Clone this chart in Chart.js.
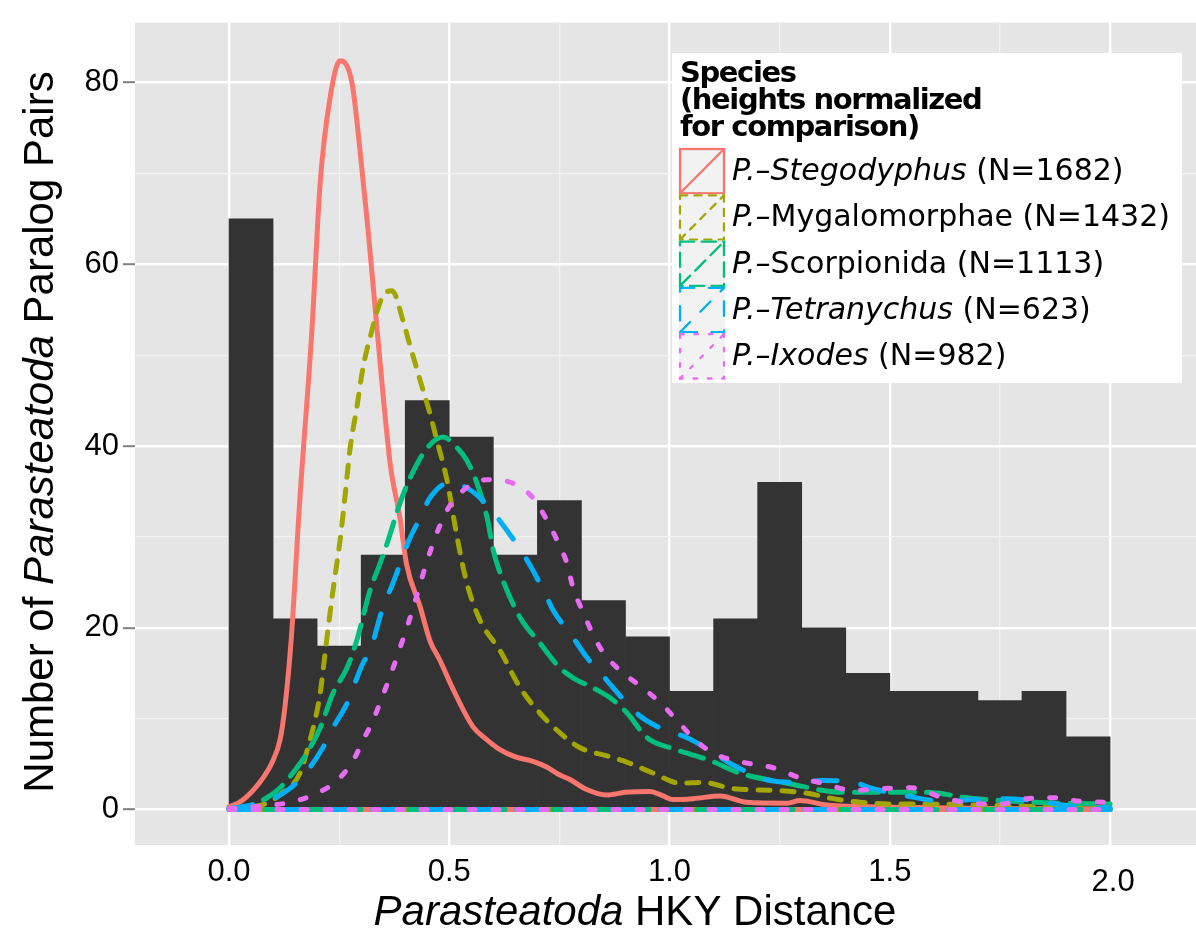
<!DOCTYPE html>
<html>
<head>
<meta charset="utf-8">
<script src="https://cdn.jsdelivr.net/npm/chart.js@4.4.1/dist/chart.umd.min.js"></script>
<style>
  html, body { margin: 0; padding: 0; background: #fff; }
  #wrap { width: 1196px; height: 930px; }
</style>
</head>
<body>
<div id="wrap"><canvas id="grafico" width="1196" height="930"></canvas></div>
<script>
// histogram (bin centres, counts)
const binCenters = [0.05, 0.15, 0.25, 0.35, 0.45, 0.55, 0.65, 0.75, 0.85, 0.95,
                    1.05, 1.15, 1.25, 1.35, 1.45, 1.55, 1.65, 1.75, 1.85, 1.95];
const binCounts = [65, 21, 18, 28, 45, 41, 28, 34, 23, 19, 13, 21, 36, 20, 15, 13, 13, 12, 13, 8];

// normalised density curves
const stegX = [0, 0.03, 0.07, 0.098, 0.116, 0.127, 0.141, 0.161, 0.188, 0.207, 0.229, 0.252, 0.279, 0.297,
  0.316, 0.335, 0.366, 0.388, 0.403, 0.434, 0.456, 0.479, 0.509, 0.554, 0.585, 0.615, 0.65, 0.69, 0.72,
  0.751, 0.774, 0.812, 0.857, 0.9, 0.956, 0.985, 1.008, 1.054, 1.115, 1.175, 1.267, 1.296, 1.357, 1.45,
  1.6, 1.8, 2.0];
const stegY = [0.3, 1.0, 3.0, 5.2, 7.7, 11.3, 18.6, 34.3, 52.6, 69.0, 78.2, 82.4, 80.0, 72.7,
  63.6, 53.4, 38.0, 32.1, 27.0, 22.3, 18.6, 16.4, 13.2, 9.1, 7.7, 6.6, 5.8, 5.3, 4.7,
  3.8, 3.3, 2.2, 1.6, 1.9, 2.0, 1.5, 1.1, 1.2, 1.5, 0.8, 0.7, 1.0, 0.5, 0.3,
  0.2, 0.1, 0.1];

const mygaX = [0, 0.05, 0.086, 0.12, 0.161, 0.179, 0.195, 0.207, 0.218, 0.236, 0.252, 0.263, 0.275, 0.29,
  0.304, 0.32, 0.347, 0.37, 0.395, 0.406, 0.434, 0.456, 0.472, 0.495, 0.518, 0.54, 0.57, 0.615, 0.661,
  0.706, 0.745, 0.797, 0.858, 0.904, 0.963, 1.024, 1.076, 1.144, 1.244, 1.312, 1.371, 1.432, 1.508,
  1.584, 1.7, 1.85, 2.0];
const mygaY = [0.1, 0.3, 0.7, 1.8, 4.0, 6.8, 9.8, 12.8, 17.2, 24.1, 29.6, 34.3, 39.8, 44.2,
  48.6, 51.9, 56.3, 57.1, 53.8, 51.9, 47.2, 43.6, 40.6, 36.2, 29.9, 24.9, 20.8, 17.5, 13.4,
  10.6, 8.7, 6.8, 5.9, 5.2, 4.0, 2.9, 3.0, 2.3, 2.1, 1.8, 1.2, 0.8, 0.6,
  0.6, 0.5, 0.3, 0.2];

const scorX = [0, 0.05, 0.086, 0.116, 0.154, 0.184, 0.207, 0.236, 0.268, 0.29, 0.32, 0.343, 0.359, 0.388,
  0.411, 0.45, 0.486, 0.518, 0.54, 0.563, 0.586, 0.6, 0.622, 0.661, 0.706, 0.751, 0.781, 0.826, 0.865,
  0.904, 0.949, 1.008, 1.092, 1.16, 1.267, 1.394, 1.508, 1.584, 1.675, 1.75, 1.886, 2.0];
const scorY = [0.1, 0.5, 1.3, 2.4, 4.6, 6.8, 9.0, 12.8, 15.6, 18.6, 24.1, 27.1, 29.3, 33.7,
  36.5, 39.8, 41.0, 39.8, 38.4, 35.9, 32.1, 28.5, 25.2, 21.1, 18.3, 15.6, 14.5, 13.4, 12.3,
  10.6, 7.9, 6.7, 5.4, 4.0, 2.9, 1.9, 1.9, 1.9, 1.3, 1.0, 0.7, 0.6];

const tetrX = [0, 0.07, 0.123, 0.168, 0.213, 0.236, 0.268, 0.304, 0.32, 0.347, 0.372, 0.411, 0.434, 0.456,
  0.502, 0.54, 0.563, 0.6, 0.631, 0.667, 0.69, 0.722, 0.736, 0.774, 0.813, 0.858, 0.888, 0.933, 0.978,
  1.04, 1.085, 1.137, 1.228, 1.296, 1.348, 1.417, 1.462, 1.539, 1.621, 1.689, 1.75, 1.825, 1.88,
  1.948, 2.0];
const tetrY = [0.1, 0.7, 1.8, 3.7, 6.8, 9.0, 11.7, 16.1, 17.4, 21.9, 24.9, 29.9, 32.1, 34.3,
  36.0, 35.4, 34.6, 32.7, 30.7, 28.2, 26.3, 23.3, 21.9, 19.4, 16.7, 14.2, 12.5, 10.3, 9.0,
  7.9, 6.7, 5.1, 3.2, 3.0, 3.2, 3.0, 2.3, 1.5, 0.9, 1.1, 1.2, 1.0, 0.6,
  0.2, 0.2];

const ixodX = [0, 0.025, 0.138, 0.2, 0.245, 0.282, 0.304, 0.327, 0.347, 0.366, 0.384, 0.411, 0.426, 0.441,
  0.456, 0.474, 0.497, 0.531, 0.586, 0.645, 0.69, 0.722, 0.745, 0.767, 0.781, 0.804, 0.824, 0.849, 0.888,
  0.933, 0.978, 1.017, 1.053, 1.099, 1.167, 1.235, 1.296, 1.348, 1.417, 1.478, 1.546, 1.621, 1.682,
  1.75, 1.811, 1.871, 1.932, 2.0];
const ixodY = [0.1, 0.2, 0.8, 1.8, 3.2, 5.4, 7.6, 9.8, 12.3, 14.7, 17.2, 21.1, 23.5, 26.0,
  28.3, 30.7, 33.1, 35.1, 36.3, 35.9, 34.3, 31.8, 29.6, 27.1, 24.4, 21.7, 19.5, 17.3, 15.3,
  13.6, 11.8, 9.8, 7.9, 6.2, 5.2, 4.6, 3.5, 2.9, 2.1, 2.3, 2.4, 1.3, 0.7,
  0.6, 1.2, 1.3, 0.9, 0.8];

// legend text: italic part, then upright part
const legendItalic = ['P.\u2013Stegodyphus', 'P.\u2013', 'P.\u2013', 'P.\u2013Tetranychus', 'P.\u2013Ixodes'];
const legendPlain = [' (N=1682)', 'Mygalomorphae (N=1432)', 'Scorpionida (N=1113)', ' (N=623)', ' (N=982)'];
const legendTitle = ['Species', '(heights normalized', 'for comparison)'];

// axis ticks
const xTickVals = [0, 0.25, 0.5, 0.75, 1, 1.25, 1.5, 1.75, 2];
const xTickLabels = ['0.0', '', '0.5', '', '1.0', '', '1.5', '', '2.0'];
const yTickVals = [0, 10, 20, 30, 40, 50, 60, 70, 80];
const yTickLabels = ['0', '', '20', '', '40', '', '60', '', '80'];

// styles
const colores = ['#F8766D', '#A3A500', '#00BF7D', '#00B0F6', '#E76BF3'];
const U = 6;
const trazos = [[], [2 * U, 2 * U], [4 * U, 2 * U], [4 * U, 4 * U], [1 * U, 3 * U]];
const K = 3.6;
const trazosLeyenda = [[], [2 * K, 2 * K], [4 * K, 2 * K], [4 * K, 4 * K], [1 * K, 3 * K]];

const curvas = [[stegX, stegY], [mygaX, mygaY], [scorX, scorY], [tetrX, tetrY], [ixodX, ixodY]];
const pts = (xs, ys) => xs.map((x, i) => ({ x: x, y: ys[i] }));

const datasets = [];
curvas.forEach(([xs, ys], i) => {
  const base = {
    type: 'line',
    borderColor: colores[i],
    borderWidth: 5,
    borderDash: trazos[i],
    borderCapStyle: 'round',
    borderJoinStyle: 'round',
    pointRadius: 0,
    fill: false,
    order: 5 - i
  };
  datasets.push(Object.assign({}, base, { data: pts(xs, ys), cubicInterpolationMode: 'monotone' }));
  // bottom edge of the density outline
  datasets.push(Object.assign({}, base, { data: [{ x: xs[0], y: 0 }, { x: xs[xs.length - 1], y: 0 }] }));
});
datasets.push({
  type: 'bar',
  data: pts(binCenters, binCounts),
  backgroundColor: '#333333',
  borderWidth: 0,
  barPercentage: 1,
  categoryPercentage: 1,
  order: 20
});

const fuenteEje = '"Liberation Sans", Arial, sans-serif';
const fuenteLeyenda = '"DejaVu Sans", Verdana, sans-serif';

function textoMixto(ctx, partes, x, y, size, family, align) {
  const fonts = partes.map(p => (p[1] ? 'italic ' : '') + size + 'px ' + family);
  const widths = partes.map((p, i) => { ctx.font = fonts[i]; return ctx.measureText(p[0]).width; });
  const total = widths.reduce((a, b) => a + b, 0);
  let cx = align === 'center' ? x - total / 2 : x;
  ctx.textAlign = 'left';
  partes.forEach((p, i) => {
    ctx.font = fonts[i];
    ctx.fillText(p[0], cx, y);
    cx += widths[i];
  });
}

const fondoPanel = {
  id: 'fondoPanel',
  beforeDraw(chart) {
    const { ctx, chartArea: a } = chart;
    ctx.save();
    ctx.fillStyle = '#ffffff';
    ctx.fillRect(0, 0, chart.width, chart.height);
    ctx.fillStyle = '#E5E5E5';
    ctx.fillRect(a.left, a.top, a.right - a.left, a.bottom - a.top);
    ctx.restore();
  }
};

const extras = {
  id: 'extras',
  afterDraw(chart) {
    const ctx = chart.ctx;
    const xs = chart.scales.x;
    ctx.save();
    ctx.fillStyle = '#000';
    ctx.textBaseline = 'alphabetic';

    // last x label sits a bit lower in the original
    const last = xTickVals.length - 1;
    ctx.font = '31px ' + fuenteEje;
    ctx.textAlign = 'center';
    ctx.fillText(xTickLabels[last], xs.getPixelForValue(xTickVals[last]) + 3, 891);

    // axis titles
    textoMixto(ctx, [['Parasteatoda', true], [' HKY Distance', false]], 635, 925, 42, fuenteEje, 'center');
    ctx.save();
    ctx.translate(53, 432);
    ctx.rotate(-Math.PI / 2);
    textoMixto(ctx, [['Number of ', false], ['Parasteatoda', true], [' Paralog Pairs', false]], 0, 0, 42, fuenteEje, 'center');
    ctx.restore();

    // legend
    ctx.fillStyle = '#ffffff';
    ctx.fillRect(672, 53, 510, 330);
    ctx.fillStyle = '#000';
    ctx.font = 'bold 29px ' + fuenteLeyenda;
    ctx.textAlign = 'left';
    if ('letterSpacing' in ctx) ctx.letterSpacing = '-1.4px';
    legendTitle.forEach((t, i) => ctx.fillText(t, 680, 82 + i * 27));
    if ('letterSpacing' in ctx) ctx.letterSpacing = '0px';

    const kx = 679, kw = 46, kh = 46.3, ky0 = 148;
    colores.forEach((c, i) => {
      const ky = ky0 + i * kh;
      ctx.fillStyle = '#F2F2F2';
      ctx.fillRect(kx, ky, kw, kh);
      ctx.strokeStyle = c;
      ctx.lineWidth = 2.3;
      ctx.lineCap = trazosLeyenda[i].length ? 'round' : 'butt';
      ctx.setLineDash(trazosLeyenda[i]);
      ctx.strokeRect(kx + 1, ky + 1, kw - 2, kh - 2);
      ctx.beginPath();
      ctx.moveTo(kx + 1, ky + kh - 1);
      ctx.lineTo(kx + kw - 1, ky + 1);
      ctx.stroke();
      ctx.setLineDash([]);
      ctx.fillStyle = '#000';
      textoMixto(ctx, [[legendItalic[i], true], [legendPlain[i], false]], 732, ky + 32, 30, fuenteLeyenda, 'left');
    });
    ctx.restore();
  }
};

const esMayorX = c => !c.tick || xTickLabels[xTickVals.indexOf(c.tick.value)] !== '';
const esMayorY = c => !c.tick || yTickLabels[yTickVals.indexOf(c.tick.value)] !== '';

new Chart(document.getElementById('grafico'), {
  type: 'line',
  data: { datasets: datasets },
  options: {
    responsive: false,
    animation: false,
    devicePixelRatio: 1,
    layout: { padding: { top: 20, right: 0, left: 0, bottom: 0 } },
    plugins: { legend: { display: false }, tooltip: { enabled: false } },
    scales: {
      x: {
        type: 'linear',
        min: -0.2134,
        max: 2.195,
        offset: false,
        afterBuildTicks: s => { s.ticks = xTickVals.map(v => ({ value: v })); },
        afterFit: s => { s.height = 85; },
        border: { display: false },
        grid: {
          offset: false,
          drawTicks: false,
          color: c => esMayorX(c) ? '#ffffff' : '#F2F2F2',
          lineWidth: c => esMayorX(c) ? 2.4 : 1.2
        },
        ticks: {
          autoSkip: false,
          maxRotation: 0,
          padding: 9,
          color: '#000',
          font: { family: fuenteEje, size: 31 },
          callback: (v, i) => (i === xTickVals.length - 1 ? '' : xTickLabels[i])
        }
      },
      y: {
        type: 'linear',
        min: -3.9,
        max: 86.6,
        afterBuildTicks: s => { s.ticks = yTickVals.map(v => ({ value: v })); },
        afterFit: s => { s.width = 135; },
        border: { display: false },
        grid: {
          offset: false,
          tickLength: 12,
          tickWidth: 2,
          tickColor: c => esMayorY(c) ? '#7F7F7F' : 'rgba(0,0,0,0)',
          color: c => esMayorY(c) ? '#ffffff' : '#F2F2F2',
          lineWidth: c => esMayorY(c) ? 2.4 : 1.2
        },
        ticks: {
          padding: 4,
          color: '#000',
          font: { family: fuenteEje, size: 31 },
          callback: (v, i) => yTickLabels[i]
        }
      }
    }
  },
  plugins: [fondoPanel, extras]
});
</script>
</body>
</html>
